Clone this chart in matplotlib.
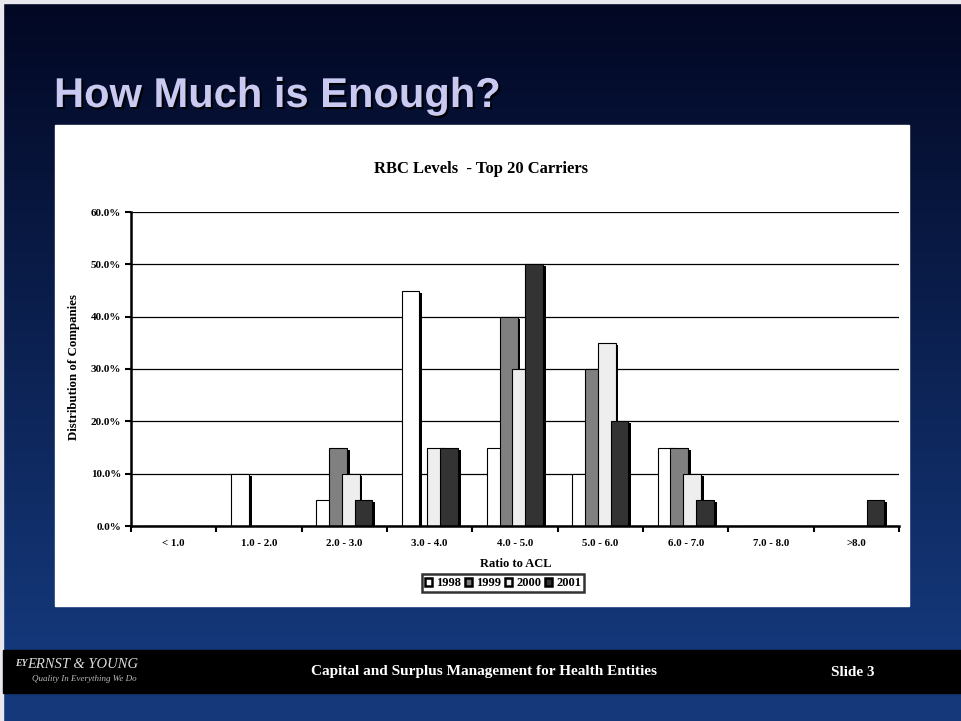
import matplotlib
matplotlib.use("Agg")
import matplotlib.pyplot as plt
import matplotlib.patheffects as pe
from matplotlib.patches import Patch, Rectangle
from matplotlib.ticker import FixedLocator, NullFormatter
import numpy as np

# ---- data -------------------------------------------------------------
categories = ["< 1.0", "1.0 - 2.0", "2.0 - 3.0", "3.0 - 4.0", "4.0 - 5.0",
              "5.0 - 6.0", "6.0 - 7.0", "7.0 - 8.0", ">8.0"]
years = ["1998", "1999", "2000", "2001"]
share_1998 = [0, 10, 5, 45, 15, 10, 15, 0, 0]
share_1999 = [0, 0, 15, 0, 40, 30, 15, 0, 0]
share_2000 = [0, 0, 10, 15, 30, 35, 10, 0, 0]
share_2001 = [0, 0, 5, 15, 50, 20, 5, 0, 5]
y_ticks = [0, 10, 20, 30, 40, 50, 60]

series = [share_1998, share_1999, share_2000, share_2001]
year_colors = ["#FFFFFF", "#808080", "#EEEEEE", "#333333"]

W, H = 961, 721
SERIF = "Liberation Serif"
SANS = "Liberation Sans"


def fx(px):
    return px / W


def fy(py):
    return 1 - py / H


fig = plt.figure(figsize=(W / 100, H / 100), dpi=100)

# ---- slide background -------------------------------------------------
bg = fig.add_axes([0, 0, 1, 1])
bg.set_axis_off()
bg.set_xlim(0, W)
bg.set_ylim(H, 0)
top_c = np.array([2, 7, 35]) / 255
bot_c = np.array([20, 56, 122]) / 255
t = np.clip(np.arange(H) / 650, 0, 1)[:, None, None]
grad = top_c * (1 - t) + bot_c * t
bg.imshow(grad, extent=[0, W, H, 0], aspect="auto", zorder=0)
# thin light frame on the outer edges
bg.add_patch(Rectangle((0, 0), W, 3, color="#E8E8EE", zorder=1))
bg.add_patch(Rectangle((0, 0), 3, H, color="#E8E8EE", zorder=1))
# footer band
bg.add_patch(Rectangle((3, 650), W, 43, color="black", zorder=1))
# white chart panel
bg.add_patch(Rectangle((55, 125), 854, 481, color="white", zorder=1))

# slide title
fig.text(fx(54), fy(107), "How Much is Enough?", family=SANS, weight="bold",
         fontsize=30, color="#C9C9F2", va="baseline", ha="left",
         path_effects=[pe.SimplePatchShadow(offset=(1.5, -1.5),
                                            shadow_rgbFace="black", alpha=0.9),
                       pe.Normal()])

# footer texts
fig.text(fx(484), fy(672), "Capital and Surplus Management for Health Entities",
         family=SERIF, weight="bold", fontsize=11, color="white",
         ha="center", va="center")
fig.text(fx(853), fy(672), "Slide 3", family=SERIF, weight="bold",
         fontsize=11, color="white", ha="center", va="center")
fig.text(fx(15), fy(664), "EY", family=SERIF, weight="bold", style="italic",
         fontsize=7, color="#DDDDDD", ha="left", va="center")
fig.text(fx(27), fy(664), "ERNST & YOUNG", family=SERIF, style="italic",
         fontsize=10.5, color="#DDDDDD", ha="left", va="center")
fig.text(fx(32), fy(679), "Quality In Everything We Do", family=SERIF,
         style="italic", fontsize=6.5, color="#BBBBBB", ha="left", va="center")

# ---- chart --------------------------------------------------------------
ax = fig.add_axes([fx(131), fy(526), (899 - 131) / W, (526 - 212) / H])
ax.set_facecolor("white")
ax.set_xlim(0, len(categories))
ax.set_ylim(0, 60)

centers = np.arange(len(categories)) + 0.5
step, width = 0.15, 0.21
for i, (vals, col) in enumerate(zip(series, year_colors)):
    ax.bar(centers + (i - 1.5) * step, vals, width=width, color=col,
           edgecolor="black", linewidth=0.8, zorder=3 + i,
           path_effects=[pe.SimplePatchShadow(offset=(2.0, -1.5),
                                              shadow_rgbFace="black", alpha=1),
                         pe.Normal()])

ax.set_yticks(y_ticks)
ax.set_yticklabels([f"{v:.1f}%" for v in y_ticks], family=SERIF,
                   weight="bold", fontsize=8)
ax.yaxis.grid(True, color="black", linewidth=0.9, zorder=1)
ax.set_axisbelow(True)

ax.xaxis.set_major_locator(FixedLocator(np.arange(len(categories) + 1)))
ax.xaxis.set_major_formatter(NullFormatter())
ax.xaxis.set_minor_locator(FixedLocator(centers))
ax.set_xticklabels(categories, minor=True, family=SERIF, weight="bold",
                   fontsize=7.8)
ax.tick_params(axis="x", which="major", direction="out", length=4, width=1.5)
ax.tick_params(axis="x", which="minor", length=0, pad=9)
ax.tick_params(axis="y", direction="out", length=4, width=1.5, pad=3)

for side in ("top", "right"):
    ax.spines[side].set_visible(False)
for side in ("left", "bottom"):
    ax.spines[side].set_linewidth(1.8)
    ax.spines[side].set_zorder(10)

fig.text(fx(481), fy(169), "RBC Levels  - Top 20 Carriers", family=SERIF,
         weight="bold", fontsize=12, ha="center", va="center")
fig.text(fx(74), fy(367), "Distribution of Companies", family=SERIF,
         weight="bold", fontsize=9.3, rotation=90, ha="center", va="center")
fig.text(fx(516), fy(564), "Ratio to ACL", family=SERIF, weight="bold",
         fontsize=9, ha="center", va="center")

handles = [Patch(facecolor=c, edgecolor="black", linewidth=1.8)
           for c in year_colors]
leg = fig.legend(handles, years, loc="center",
                 bbox_to_anchor=(fx(503), fy(583)), ncol=4, frameon=True,
                 fancybox=False, handlelength=0.6, handleheight=0.6,
                 handletextpad=0.3, columnspacing=0.3, borderpad=0.25,
                 borderaxespad=0,
                 prop={"family": SERIF, "weight": "bold", "size": 9})
leg.get_frame().set_edgecolor("black")
leg.get_frame().set_linewidth(1.8)

fig.savefig("out.png", dpi=100)
